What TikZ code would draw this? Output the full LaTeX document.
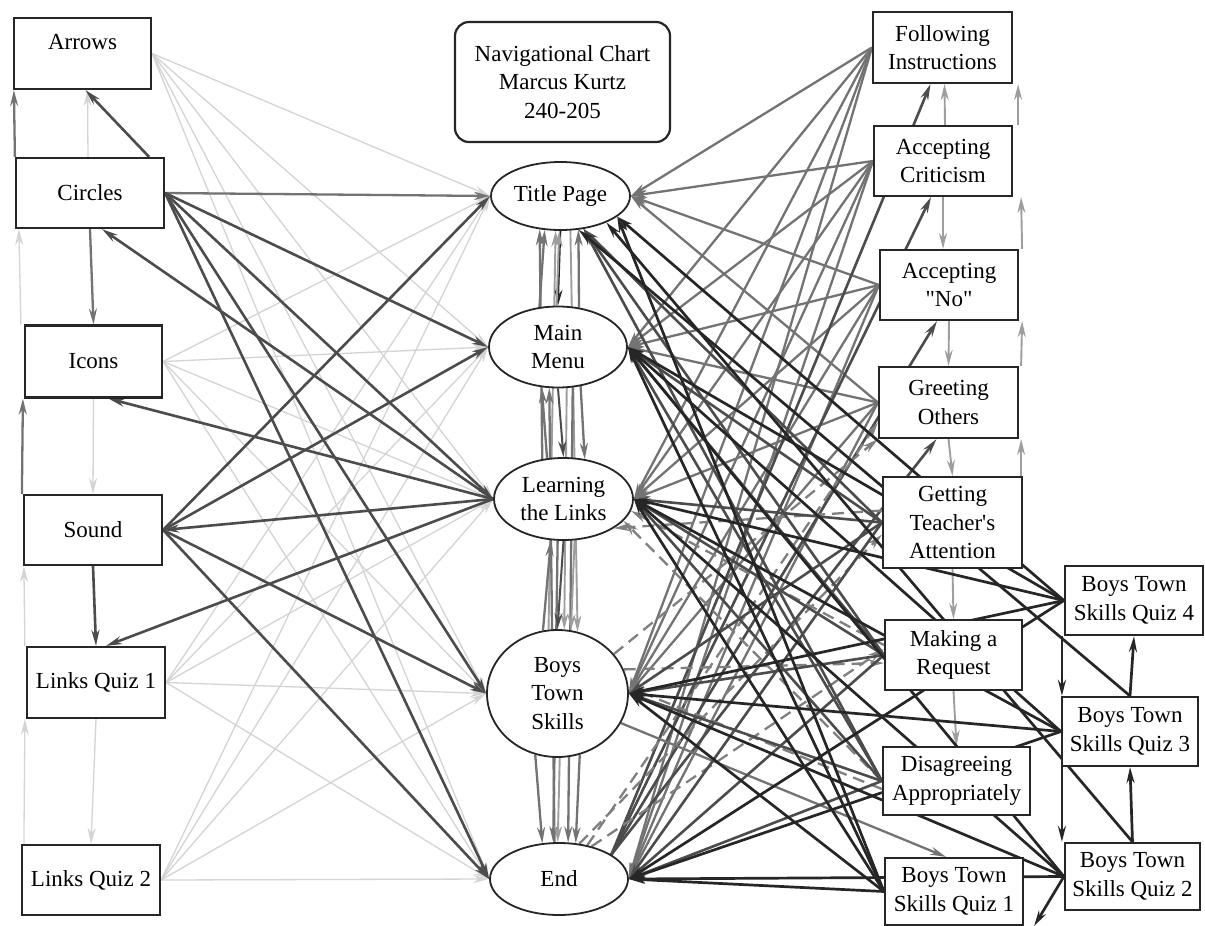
\documentclass[tikz,border=0pt]{standalone}
\usepackage{fontspec}
\newfontfamily\plainq{Liberation Serif}
\usetikzlibrary{shapes.geometric, arrows.meta, backgrounds}
\begin{document}
\begin{tikzpicture}[x=1pt,y=-1pt, font=\plainq\fontsize{23}{28.5}\selectfont]
\tikzset{
 box/.style={draw=black!85, line width=2.2pt, fill=white, inner sep=0pt, align=center},
 oval/.style={ellipse, draw=black!85, line width=1.8pt, fill=white, inner sep=0pt, align=center},
 tip/.style={-{Stealth[length=16pt,width=8pt]}},
 faint/.style={tip, draw=black!17, line width=1.3pt},
 lite/.style={tip, draw=black!38, line width=1.9pt},
 midg/.style={tip, draw=black!55, line width=2.3pt},
 dark/.style={tip, draw=black!70, line width=2.6pt},
 vdark/.style={tip, draw=black!85, line width=2.7pt},
 dsh/.style={tip, draw=black!50, line width=2.3pt, dash pattern=on 12pt off 7pt},
}
\useasboundingbox (0,0) rectangle (1205,926);

% left column
\node[box, minimum width=137pt, minimum height=71pt] (arrows) at (82.5,53.5) {};
\node[inner sep=0pt] (arrowsT) at (82.5,42) {Arrows};
\node[box, minimum width=148pt, minimum height=70pt] (circles) at (90,193) {Circles};
\node[box, minimum width=137pt, minimum height=72pt] (icons) at (93.5,361.5) {Icons};
\node[box, minimum width=138pt, minimum height=70pt] (sound) at (93,530) {Sound};
\node[box, minimum width=138pt, minimum height=71pt] (lq1) at (96,682.5) {Links Quiz 1};
\node[box, minimum width=138pt, minimum height=70pt] (lq2) at (91,880) {Links Quiz 2};

% centre column
\node[box, rounded corners=14pt, minimum width=215pt, minimum height=120pt] (nav) at (562.5,82) {Navigational Chart\\Marcus Kurtz\\240-205};
\node[oval, minimum width=139pt, minimum height=68pt] (title) at (560.5,196) {Title Page};
\node[oval, minimum width=138pt, minimum height=81pt] (mainmenu) at (558,347) {Main\\Menu};
\node[oval, minimum width=139pt, minimum height=82pt] (learning) at (563.5,499) {Learning\\the Links};
\node[oval, minimum width=141pt, minimum height=127pt] (bts) at (557.5,693.5) {Boys\\Town\\Skills};
\node[oval, minimum width=138pt, minimum height=72pt] (end) at (559,879) {End};

% right column
\node[box, minimum width=139pt, minimum height=71pt] (fi) at (942.5,47.5) {Following\\Instructions};
\node[box, minimum width=138pt, minimum height=70pt] (ac) at (943,161) {Accepting\\Criticism};
\node[box, minimum width=138pt, minimum height=70pt] (an) at (949,285) {Accepting\\"No"};
\node[box, minimum width=139pt, minimum height=71pt] (go) at (948.5,402.5) {Greeting\\Others};
\node[box, minimum width=139pt, minimum height=91pt] (gta) at (952.5,522.5) {Getting\\Teacher's\\Attention};
\node[box, minimum width=137pt, minimum height=70pt] (mar) at (953.5,655) {Making a\\Request};
\node[box, minimum width=147pt, minimum height=68pt] (da) at (956.5,781) {Disagreeing\\Appropriately};
\node[box, minimum width=138pt, minimum height=67pt] (q1) at (954,891.5) {Boys Town\\Skills Quiz 1};
\node[box, minimum width=138pt, minimum height=69pt] (q4) at (1134,600.5) {Boys Town\\Skills Quiz 4};
\node[box, minimum width=136pt, minimum height=69pt] (q3) at (1130,731.5) {Boys Town\\Skills Quiz 3};
\node[box, minimum width=135pt, minimum height=67pt] (q2) at (1132.5,876.5) {Boys Town\\Skills Quiz 2};

\begin{pgfonlayer}{background}
\fill[white] (0,0) rectangle (1205,926);
% faint fans from the left
\foreach \s in {arrows, icons, lq1, lq2}
  \foreach \t in {title, mainmenu, learning, bts, end}
    \draw[faint] (\s.east) -- (\t.west);
% left column verticals
\draw[faint] ([xshift=-2pt]circles.north) -- ([xshift=5pt]arrows.south);
\draw[midg] (circles.north west) -- ([xshift=1pt]arrows.south west);
\draw[dark] ([xshift=-16pt]circles.north east) -- ([xshift=3pt]arrows.south);
\draw[midg] (circles.south) -- (icons.north);
\draw[faint] ([xshift=-3pt]icons.north west) -- ([xshift=4pt]circles.south west);
\draw[faint] (icons.south) -- (sound.north);
\draw[midg] ([xshift=-1pt]sound.north west) -- ([xshift=-1pt]icons.south west);
\draw[dark] (sound.south) -- (lq1.north);
\draw[faint] ([xshift=-1pt]lq1.north west) -- ([xshift=1pt]sound.south west);
\draw[faint] (lq1.south) -- (lq2.north);
\draw[faint] ([xshift=3pt]lq2.north west) -- ([xshift=-1pt]lq1.south west);
% circles and sound fans
\draw[midg] (circles.east) -- (title.west);
\foreach \t in {mainmenu, learning, bts, end}
  \draw[dark] (circles.east) -- (\t.west);
\foreach \t in {title, mainmenu, bts, end}
  \draw[dark] (sound.east) -- (\t.west);
% learning the links back to the left
\draw[dark] (learning.west) -- ([xshift=12pt]circles.south);
\draw[dark] (learning.west) -- ([xshift=15pt]icons.south);
\draw[dark] (learning.west) -- (sound.east);
\draw[dark] (learning.west) -- ([xshift=10pt]lq1.north);
% centre verticals
\draw[midg] (learning.118) -- (title.238);
\draw[lite] (bts.98) -- (title.262);
\draw[midg] (end.97) -- (mainmenu.258);
\draw[lite] (mainmenu.282) -- (bts.84);
\draw[midg] (learning.262) -- (end.99);
\draw[lite] (title.286) -- (bts.72);
\draw[midg] (mainmenu.290) -- (end.76);
\draw[vdark, line width=1.6pt] (title.south) -- (mainmenu.north);
\draw[midg] (mainmenu.115) -- (title.245);
\draw[lite] (mainmenu.92) -- (title.268);
\draw[midg] (mainmenu.62) -- (title.298);
\draw[dark, line width=2pt] (mainmenu.south) -- (learning.north);
\draw[midg] (learning.112) -- (mainmenu.248);
\draw[midg] (mainmenu.300) -- (learning.62);
\draw[dark, line width=2pt] (learning.south) -- (bts.north);
\draw[midg] (bts.103) -- (learning.253);
\draw[lite] (learning.285) -- (bts.78);
\draw[midg] (bts.250) -- (end.115);
\draw[lite] (bts.272) -- (end.92);
\draw[midg] (bts.290) -- (end.65);
% skill boxes to centre
\foreach \s in {fi, ac, an, go}
  \foreach \t in {title, mainmenu, learning, bts, end}
    \draw[midg] (\s.west) -- (\t.east);
% end to skill boxes
\foreach \b in {fi, ac, an, go}
  \draw[dark] (end.25) -- ([xshift=-12pt]\b.south);
% dashed links
\draw[dsh] (end.45) -- ([yshift=6pt]mar.west);
\draw[dsh] (bts.20) -- ([yshift=-8pt]mar.west);
\draw[dsh] (end.60) -- ([yshift=-12pt]gta.west);
\draw[dsh] (bts.35) -- (go.south west);
\draw[dsh] (end.50) -- ([yshift=-20pt]go.west);
\draw[dsh] ([yshift=10pt]mar.west) -- (learning.-10);
\draw[dsh] (da.west) -- (learning.-20);
\draw[dsh] ([yshift=-8pt]da.west) -- (bts.5);
\draw[dsh] ([yshift=12pt]gta.west) -- (learning.-30);
\draw[midg] (bts.-25) -- ([xshift=-8pt]q1.north);
% darker skill boxes to centre
\foreach \s in {gta, mar, da}
  \foreach \t in {mainmenu, learning, bts, end}
    \draw[dark] (\s.west) -- (\t.east);
\foreach \s in {gta, mar, da}
  \draw[dark] (\s.west) -- (title.-55);
% skill box chain
\draw[lite] ([xshift=2pt]ac.north) -- ([xshift=2pt]fi.south);
\draw[lite] (ac.south) -- ([xshift=-6pt]an.north);
\draw[lite] (an.south) -- (go.north);
\draw[lite] (go.south) -- (gta.north);
\draw[lite] (gta.south) -- (mar.north);
\draw[lite] (mar.south) -- (da.north);
\draw[lite] ([xshift=5pt]ac.north east) -- ([xshift=5pt]fi.south east);
\draw[lite] ([xshift=3pt]an.north east) -- ([xshift=8pt]ac.south east);
\draw[lite] ([xshift=2pt]go.north east) -- ([xshift=3pt]an.south east);
\draw[lite] ([xshift=-2pt]gta.north east) -- ([xshift=2pt]go.south east);
% quizzes to centre
\foreach \s in {q1, q2, q3, q4}
  \foreach \t in {mainmenu, learning, bts, end}
    \draw[vdark] (\s.west) -- (\t.east);
\foreach \s in {q1, q4}
  \draw[vdark] (\s.west) -- (title.-20);
\draw[vdark] (q3.north) -- (title.-62);
\draw[vdark] (q2.north) -- (title.-30);
% quiz chain
\draw[vdark] ([xshift=-2pt]q4.south west) -- ([xshift=1pt]q3.north west);
\draw[vdark] (q3.north) -- (q4.south);
\draw[vdark] ([xshift=1pt]q3.south west) -- ([xshift=-2pt]q2.north west);
\draw[vdark] (q2.north) -- (q3.south);
\draw[vdark] (q2.west) -- ([xshift=10pt]q1.south east);
\end{pgfonlayer}
\end{tikzpicture}
\end{document}
